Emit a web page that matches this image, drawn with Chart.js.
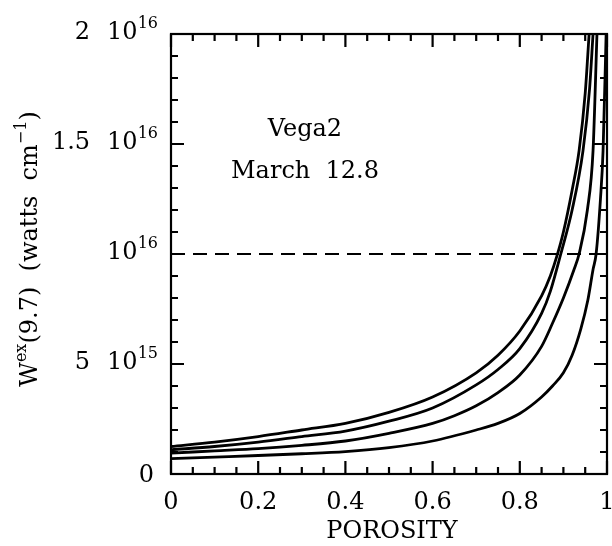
<!DOCTYPE html>
<html>
<head>
<meta charset="utf-8">
<script src="https://cdn.jsdelivr.net/npm/chart.js@4.4.1/dist/chart.umd.min.js"></script>
<style>
  body { margin: 0; background: #fff; }
  canvas { display: block; }
</style>
</head>
<body>
<canvas id="myChart" width="612" height="546"></canvas>
<script>
// W^ex(9.7) in units of 10^15 watts cm^-1
const porosityA = [0, 0.1, 0.2, 0.3, 0.4, 0.5, 0.6, 0.7, 0.75, 0.8, 0.85, 0.87, 0.885, 0.9, 0.92, 0.936, 0.95, 0.959];
const wexA      = [1.25, 1.45, 1.7, 2.0, 2.3, 2.8, 3.5, 4.6, 5.4, 6.5, 8.1, 9.0, 9.9, 11.0, 12.9, 14.7, 17.3, 20];

const porosityB = [0, 0.1, 0.2, 0.3, 0.4, 0.5, 0.6, 0.7, 0.75, 0.8, 0.85, 0.87, 0.894, 0.92, 0.945, 0.96, 0.968];
const wexB      = [1.1, 1.25, 1.45, 1.7, 1.95, 2.4, 3.0, 4.05, 4.75, 5.7, 7.3, 8.3, 10.0, 12.0, 14.7, 17.5, 20];

const porosityC = [0, 0.1, 0.2, 0.3, 0.4, 0.5, 0.6, 0.65, 0.7, 0.75, 0.8, 0.85, 0.875, 0.9, 0.924, 0.936, 0.955, 0.968, 0.977];
const wexC      = [0.95, 1.05, 1.15, 1.3, 1.5, 1.85, 2.3, 2.65, 3.1, 3.7, 4.5, 5.8, 6.85, 8.0, 9.27, 10.0, 12.0, 14.7, 20];

const porosityD = [0, 0.1, 0.2, 0.3, 0.4, 0.5, 0.6, 0.7, 0.75, 0.8, 0.85, 0.875, 0.9, 0.92, 0.94, 0.956, 0.968, 0.975, 0.985, 0.991, 0.998];
const wexD      = [0.7, 0.77, 0.84, 0.92, 1.02, 1.2, 1.5, 2.0, 2.3, 2.75, 3.5, 4.0, 4.6, 5.4, 6.6, 7.9, 9.3, 10.0, 12.5, 14.7, 20];

// horizontal reference level, 10^16
const porosityRef = [0, 1];
const wexRef      = [10, 10];

const xTickValues = [0, 0.2, 0.4, 0.6, 0.8, 1];
const xTickLabels = ['0', '0.2', '0.4', '0.6', '0.8', '1'];
const yTickValues = [0, 5, 10, 15, 20];
const yTickMantissa = ['0', '5', '', '1.5', '2'];
const yTickExponent = ['', '15', '16', '16', '16'];

const FONT = '"DejaVu Serif", serif';

function pts(xs, ys) {
  return xs.map((x, i) => ({ x: x, y: ys[i] }));
}

function curve(xs, ys) {
  return {
    data: pts(xs, ys),
    borderColor: '#000',
    borderWidth: 2.8,
    pointRadius: 0,
    fill: false,
    cubicInterpolationMode: 'monotone'
  };
}

// frame with inward ticks on all four sides, plus the text
const framePlugin = {
  id: 'frame',
  afterDraw(chart) {
    const c = chart.ctx;
    const a = chart.chartArea;
    const xs = chart.scales.x, ys = chart.scales.y;
    c.save();
    c.strokeStyle = '#000';
    c.lineWidth = 2.2;
    c.strokeRect(a.left, a.top, a.right - a.left, a.bottom - a.top);

    c.beginPath();
    for (let i = 0; i <= 20; i++) {
      const v = i * 0.05;
      const px = xs.getPixelForValue(v);
      const len = (i % 4 === 0) ? 13 : 7;
      c.moveTo(px, a.bottom); c.lineTo(px, a.bottom - len);
      c.moveTo(px, a.top); c.lineTo(px, a.top + len);
    }
    for (let i = 0; i <= 20; i++) {
      const py = ys.getPixelForValue(i);
      const len = (i % 5 === 0) ? 13 : 7;
      c.moveTo(a.left, py); c.lineTo(a.left + len, py);
      c.moveTo(a.right, py); c.lineTo(a.right - len, py);
    }
    c.stroke();

    c.fillStyle = '#000';
    // x tick labels
    c.font = '24px ' + FONT;
    c.textAlign = 'center';
    c.textBaseline = 'middle';
    xTickLabels.forEach((lab, i) => {
      c.fillText(lab, xs.getPixelForValue(xTickValues[i]), 503);
    });
    c.fillText('POROSITY', (a.left + a.right) / 2 + 3, 532);

    // y tick labels: mantissa 10^exp
    c.textBaseline = 'alphabetic';
    c.textAlign = 'left';
    yTickValues.forEach((v, i) => {
      const py = ys.getPixelForValue(v) + 5;
      const right = 158;
      const mant = yTickMantissa[i], ex = yTickExponent[i];
      c.font = '24px ' + FONT;
      if (!ex) {
        const w = c.measureText(mant).width;
        c.fillText(mant, right - w - 4, py + 3);
        return;
      }
      c.font = '16px ' + FONT;
      const we = c.measureText(ex).width;
      c.font = '24px ' + FONT;
      const wt = c.measureText('10').width;
      const x10 = right - we - wt;
      c.fillText('10', x10, py);
      if (mant) {
        const wm = c.measureText(mant).width;
        c.fillText(mant, x10 - 17 - wm, py);
      }
      c.font = '16px ' + FONT;
      c.fillText(ex, x10 + wt, py - 11);
    });

    // annotation
    c.font = '24px ' + FONT;
    c.textAlign = 'center';
    c.textBaseline = 'middle';
    c.fillText('Vega2', 305, 130);
    c.fillText('March  12.8', 305, 172);

    // rotated y-axis title
    c.translate(37, 249);
    c.rotate(-Math.PI / 2);
    c.textAlign = 'left';
    c.textBaseline = 'alphabetic';
    const parts = [
      ['W', 24, 0], ['ex', 16, -11], ['(9.7)  (watts  cm', 24, 0], ['\u22121', 16, -11], [')', 24, 0]
    ];
    let total = 0;
    parts.forEach(p => { c.font = p[1] + 'px ' + FONT; total += c.measureText(p[0]).width; });
    let x = -total / 2;
    parts.forEach(p => {
      c.font = p[1] + 'px ' + FONT;
      c.fillText(p[0], x, p[2]);
      x += c.measureText(p[0]).width;
    });
    c.restore();
  }
};

const ctx = document.getElementById('myChart').getContext('2d');
const myChart = new Chart(ctx, {
  type: 'line',
  data: {
    datasets: [
      curve(porosityA, wexA),
      curve(porosityB, wexB),
      curve(porosityC, wexC),
      curve(porosityD, wexD),
      {
        data: pts(porosityRef, wexRef),
        borderColor: '#000',
        borderWidth: 2.2,
        borderDash: [14, 8],
        pointRadius: 0,
        fill: false
      }
    ]
  },
  options: {
    responsive: false,
    animation: false,
    layout: { padding: { left: 171, right: 5, top: 34, bottom: 72 } },
    plugins: { legend: { display: false }, tooltip: { enabled: false } },
    scales: {
      x: { type: 'linear', min: 0, max: 1, display: false },
      y: { type: 'linear', min: 0, max: 20, display: false }
    }
  },
  plugins: [framePlugin]
});
</script>
</body>
</html>
